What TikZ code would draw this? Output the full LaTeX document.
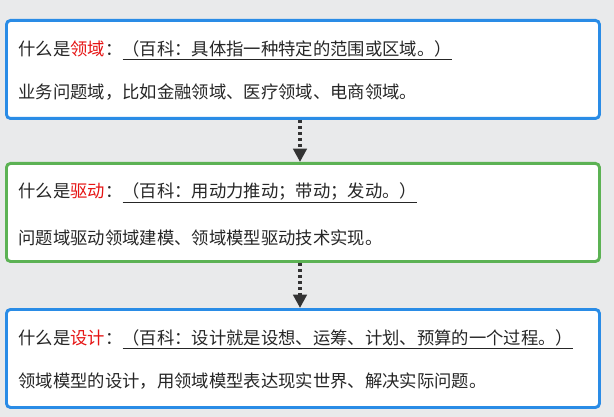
\documentclass[tikz,border=0pt]{standalone}
\usepackage{fontspec}
\setmainfont{Noto Sans CJK SC}
\usetikzlibrary{positioning,arrows.meta}
\definecolor{boxblue}{RGB}{42,140,230}
\definecolor{boxgreen}{RGB}{92,178,84}
\definecolor{keyred}{RGB}{230,20,20}
\definecolor{bggray}{RGB}{233,234,235}
\tikzset{every picture/.style={line width=0.75pt}}
\tikzset{
  card/.style={draw=#1, line width=2.2pt, rounded corners=3pt, fill=white, minimum width=444.75pt, minimum height=73.5pt},
  line/.style={anchor=west, inner sep=0pt, font=\fontsize{13}{15}\selectfont, text=black!85},
  flow/.style={dash pattern=on 2.5pt off 2pt, line width=2.6pt, draw=black!80, -{Triangle[length=10pt,width=10pt]}}
}
\newcommand{\kw}[1]{\textcolor{keyred}{#1}}
\newcommand{\note}[1]{\underline{#1}}
\begin{document}
\begin{tikzpicture}[x=0.75pt,y=0.75pt,yscale=-1,xscale=1]
\fill[bggray] (0,0) rectangle (614,417);
\useasboundingbox (0,0) rectangle (614,417);

% boxes
\node[card=boxblue, anchor=north west] (domain) at (5,19) {};
\node[card=boxgreen, anchor=north west] (drive) at (5,162) {};
\node[card=boxblue, anchor=north west] (design) at (5,308) {};

% texts
\node[line] (domaintitle) at (18,50) {什么是\kw{领域}：\note{（百科：具体指一种特定的范围或区域。）}};
\node[line] (domaintext) at (18,92) {业务问题域，比如金融领域、医疗领域、电商领域。};
\node[line] (drivetitle) at (18,193) {什么是\kw{驱动}：\note{（百科：用动力推动；带动；发动。）}};
\node[line] (drivetext) at (18,238) {问题域驱动领域建模、领域模型驱动技术实现。};
\node[line] (designtitle) at (18,339) {什么是\kw{设计}：\note{（百科：设计就是设想、运筹、计划、预算的一个过程。）}};
\node[line] (designtext) at (18,381) {领域模型的设计，用领域模型表达现实世界、解决实际问题。};

% connectors
\draw[flow] (domain.south -| 300,0) -- (drive.north -| 300,0);
\draw[flow] (drive.south -| 300,0) -- (design.north -| 300,0);
\end{tikzpicture}
\end{document}
